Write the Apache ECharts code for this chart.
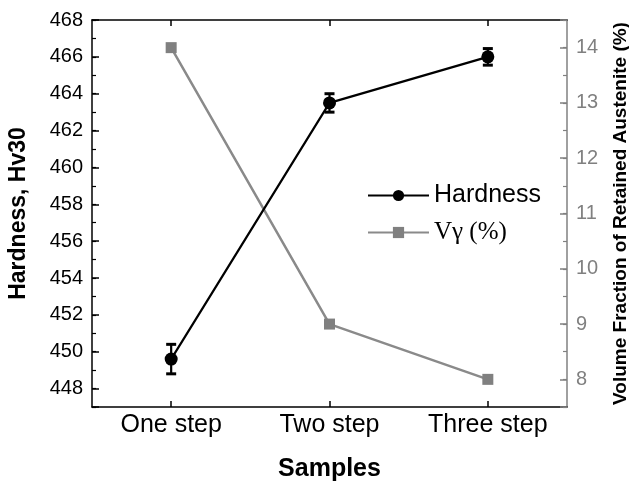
<!DOCTYPE html>
<html>
<head>
<meta charset="utf-8">
<script src="https://cdn.jsdelivr.net/npm/echarts@6/dist/echarts.min.js"></script>
<style>
  html, body { margin: 0; padding: 0; background: #fff; }
  #chart { width: 629px; height: 486px; }
</style>
</head>
<body>
<div id="chart"></div>
<script>
// data
const samples = ['One step', 'Two step', 'Three step'];
const hardness = [449.6, 463.5, 466.0];
const hardnessErr = [0.8, 0.5, 0.45];
const retainedAustenite = [14, 9, 8];

const FONT = '"Liberation Sans", Arial, sans-serif';
const GRAY = '#808080';

const chart = echarts.init(document.getElementById('chart'));

const errData = samples.map((s, i) => [i, hardness[i] - hardnessErr[i], hardness[i] + hardnessErr[i]]);

const box = { left: 92, right: 62, top: 20, bottom: 79, containLabel: false, outerBoundsMode: 'none' };

const option = {
  backgroundColor: '#ffffff',
  animation: false,
  textStyle: { fontFamily: FONT },
  // second grid only carries the minor ticks
  grid: [Object.assign({}, box), Object.assign({}, box)],
  legend: {
    orient: 'vertical',
    left: 362,
    top: 178,
    itemWidth: 61,
    itemHeight: 14,
    itemGap: 12,
    textStyle: {
      fontFamily: FONT, fontSize: 25, color: '#000',
      rich: { s: { fontFamily: '"Liberation Serif", "Times New Roman", serif', fontSize: 25, color: '#000' } }
    },
    formatter: name => name === 'Hardness' ? name : '{s|' + name + '}',
    data: ['Hardness', 'Vγ (%)']
  },
  xAxis: [
    {
      type: 'category',
      gridIndex: 0,
      data: samples,
      boundaryGap: true,
      name: 'Samples',
      nameLocation: 'middle',
      nameGap: 50,
      nameTextStyle: { fontFamily: FONT, fontSize: 25, fontWeight: 'bold', color: '#000' },
      axisLine: { show: true, lineStyle: { color: '#000', width: 1.5 } },
      axisTick: { show: true, inside: true, alignWithLabel: true, length: 6, lineStyle: { color: '#000', width: 1.5 } },
      axisLabel: { fontSize: 25, color: '#000', margin: 6 }
    },
    {
      type: 'category',
      gridIndex: 0,
      data: samples,
      position: 'top',
      boundaryGap: true,
      axisLine: { show: true, lineStyle: { color: '#000', width: 1.5 } },
      axisTick: { show: true, inside: true, alignWithLabel: true, length: 6, lineStyle: { color: '#000', width: 1.5 } },
      axisLabel: { show: false }
    },
    {
      type: 'category',
      gridIndex: 1,
      data: samples,
      show: false
    }
  ],
  yAxis: [
    {
      type: 'value',
      gridIndex: 0,
      position: 'left',
      min: 447,
      max: 468,
      splitNumber: 10,
      minInterval: 2,
      maxInterval: 2,
      name: 'Hardness, Hv30',
      nameLocation: 'middle',
      nameGap: 62,
      nameTextStyle: { fontFamily: FONT, fontSize: 23, fontWeight: 'bold', color: '#000' },
      axisLine: { show: true, lineStyle: { color: '#000', width: 1.5 } },
      axisTick: { show: true, inside: true, length: 7, lineStyle: { color: '#000', width: 1.5 } },
      axisLabel: { fontSize: 20, color: '#000', margin: 9, formatter: v => (v % 2 === 0 ? String(v) : '') },
      splitLine: { show: false }
    },
    {
      type: 'value',
      gridIndex: 0,
      position: 'right',
      min: 7.5,
      max: 14.5,
      splitNumber: 7,
      minInterval: 1,
      maxInterval: 1,
      name: 'Volume Fraction of Retained Austenite (%)',
      nameLocation: 'middle',
      nameRotate: 90,
      nameGap: 44,
      nameTextStyle: { fontFamily: FONT, fontSize: 19, fontWeight: 'bold', color: '#000' },
      axisLine: { show: true, lineStyle: { color: GRAY, width: 1.5 } },
      axisTick: { show: true, inside: true, length: 7, lineStyle: { color: GRAY, width: 1.5 } },
      axisLabel: { fontSize: 20, color: GRAY, margin: 9, formatter: v => (Number.isInteger(v) ? String(v) : '') },
      splitLine: { show: false }
    },
    {
      // minor ticks, left
      type: 'value',
      gridIndex: 1,
      position: 'left',
      min: 447,
      max: 468,
      interval: 1,
      axisLine: { show: false },
      axisTick: { show: true, inside: true, length: 4, lineStyle: { color: '#000', width: 1.2 } },
      axisLabel: { show: false },
      splitLine: { show: false }
    },
    {
      // minor ticks, right
      type: 'value',
      gridIndex: 1,
      position: 'right',
      min: 7.5,
      max: 14.5,
      interval: 0.5,
      axisLine: { show: false },
      axisTick: { show: true, inside: true, length: 4, lineStyle: { color: GRAY, width: 1.2 } },
      axisLabel: { show: false },
      splitLine: { show: false }
    }
  ],
  series: [
    {
      name: 'Vγ (%)',
      type: 'line',
      xAxisIndex: 0,
      yAxisIndex: 1,
      data: retainedAustenite,
      symbol: 'rect',
      symbolSize: 11,
      itemStyle: { color: GRAY },
      lineStyle: { color: '#8a8a8a', width: 2.5 },
      z: 2
    },
    {
      name: 'Hardness',
      type: 'line',
      xAxisIndex: 0,
      yAxisIndex: 0,
      data: hardness,
      symbol: 'circle',
      symbolSize: 13,
      itemStyle: { color: '#000' },
      lineStyle: { color: '#000', width: 2.2 },
      z: 3
    },
    {
      name: 'err',
      type: 'custom',
      xAxisIndex: 0,
      yAxisIndex: 0,
      data: errData,
      z: 4,
      renderItem: (params, api) => {
        const x = api.value(0);
        const lo = api.coord([x, api.value(1)]);
        const hi = api.coord([x, api.value(2)]);
        const cap = 5;
        const style = { stroke: '#000', lineWidth: 2.2 };
        return {
          type: 'group',
          children: [
            { type: 'line', shape: { x1: lo[0], y1: lo[1], x2: hi[0], y2: hi[1] }, style },
            { type: 'line', shape: { x1: lo[0] - cap, y1: lo[1], x2: lo[0] + cap, y2: lo[1] }, style: { stroke: '#000', lineWidth: 3 } },
            { type: 'line', shape: { x1: hi[0] - cap, y1: hi[1], x2: hi[0] + cap, y2: hi[1] }, style: { stroke: '#000', lineWidth: 3 } }
          ]
        };
      }
    }
  ]
};

chart.setOption(option);
</script>
</body>
</html>
